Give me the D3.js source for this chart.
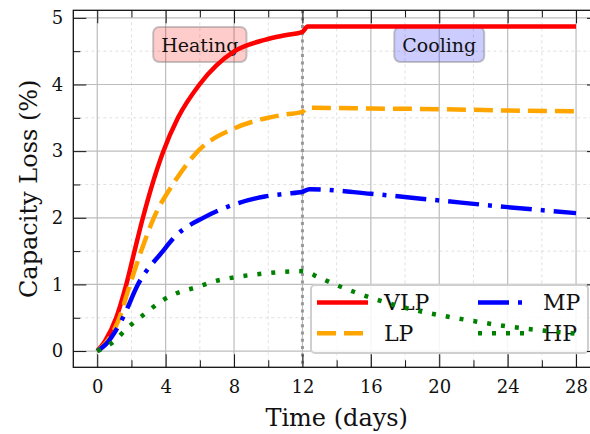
<!DOCTYPE html>
<html>
<head>
<meta charset="utf-8">
<script src="https://cdn.jsdelivr.net/npm/d3@7"></script>
<style>
  body { margin: 0; background: #fff; }
  text { font-family: "DejaVu Serif", serif; fill: #111; }
</style>
</head>
<body>
<svg id="chart" width="590" height="434"></svg>
<script>
// values, [time (days), capacity loss (%)]
var vlp = [[0,0],[0.45,0.15],[1.11,0.5],[1.7,1],[2.18,1.5],[2.67,2],[3.16,2.45],[3.84,2.98],[4.72,3.5],
  [5.98,4],[8.03,4.5],[9.8,4.67],[11,4.74],[12,4.79],[12.3,4.87],
  [16,4.87],[20,4.87],[24,4.87],[28,4.87]];
var lp = [[0,0],[0.5,0.12],[1.3,0.5],[1.89,0.98],[2.57,1.5],[3.31,2],[4.42,2.5],[5.89,3],[8,3.34],
  [9.8,3.49],[11,3.55],[12,3.59],[12.3,3.65],
  [16,3.64],[20,3.63],[24,3.61],[28,3.6]];
var mp = [[0,0],[0.5,0.1],[1.5,0.5],[2.38,1],[3.84,1.5],[4.52,1.71],[6.28,2.01],[8,2.2],
  [9.8,2.32],[11,2.36],[12,2.39],[12.4,2.43],
  [16,2.36],[20,2.26],[24,2.16],[28,2.07]];
var hp = [[0,0],[0.82,0.115],[1.89,0.375],[2.57,0.515],[3.84,0.765],[4.52,0.855],[5.89,0.965],
  [6.76,1.04],[8.22,1.115],[9.8,1.165],[11,1.19],[12,1.2],[13,1.1],[14,0.99],[15,0.89],[16,0.8],
  [17,0.72],[18,0.65],[19,0.59],[20,0.54],[22,0.45],[24,0.37],[26,0.31],[28,0.26]];

var names = ["VLP", "LP", "MP", "HP"];
var colors = ["#ff0000", "#ffa500", "#0000ff", "#008000"];
var dashes = [null, "19,8", "31,9,4,9", "4,10"];
var series = [vlp, lp, mp, hp];

var xMajor = [0, 4, 8, 12, 16, 20, 24, 28];
var xMinor = [2, 6, 10, 14, 18, 22, 26];
var yMajor = [0, 1, 2, 3, 4, 5];
var yMinor = [0.5, 1.5, 2.5, 3.5, 4.5];

var phases = [{label: "Heating", t: 6, v: 4.6, fill: "rgba(255,0,0,0.2)"},
              {label: "Cooling", t: 20, v: 4.6, fill: "rgba(0,0,255,0.2)"}];
var switchDay = 12;

var svg = d3.select("#chart");
var pL = 73.3, pR = 600, pT = 10.3, pB = 367.3;

var x = d3.scaleLinear().domain([-1.4, 29.4]).range([pL, pR]);
var y = d3.scaleLinear().domain([-0.2435, 5.1135]).range([pB, pT]);

// grid
var grid = svg.append("g");
grid.selectAll(".gxm").data(xMinor).enter().append("line")
  .attr("x1", d => x(d)).attr("x2", d => x(d)).attr("y1", pT).attr("y2", pB)
  .style("stroke", "#d8d8d8").style("stroke-width", 0.8).style("stroke-dasharray", "3,3");
grid.selectAll(".gym").data(yMinor).enter().append("line")
  .attr("y1", d => y(d)).attr("y2", d => y(d)).attr("x1", pL).attr("x2", pR)
  .style("stroke", "#d8d8d8").style("stroke-width", 0.8).style("stroke-dasharray", "3,3");
grid.selectAll(".gx").data(xMajor).enter().append("line")
  .attr("x1", d => x(d)).attr("x2", d => x(d)).attr("y1", pT).attr("y2", pB)
  .style("stroke", "#bdbdbd").style("stroke-width", 1.2);
grid.selectAll(".gy").data(yMajor).enter().append("line")
  .attr("y1", d => y(d)).attr("y2", d => y(d)).attr("x1", pL).attr("x2", pR)
  .style("stroke", "#bdbdbd").style("stroke-width", 1.2);

// phase switch
svg.append("line")
  .attr("x1", x(switchDay)).attr("x2", x(switchDay)).attr("y1", pT).attr("y2", pB)
  .style("stroke", "#999").style("stroke-width", 3).style("stroke-dasharray", "3,4.3");

// phase labels
phases.forEach(function(p) {
  var g = svg.append("g");
  var t = g.append("text").attr("x", x(p.t)).attr("y", y(p.v))
    .attr("text-anchor", "middle").attr("dominant-baseline", "central")
    .style("font-size", "19px").text(p.label);
  var bb = t.node().getBBox();
  g.insert("rect", "text")
    .attr("x", bb.x - 8).attr("y", y(p.v) - 17.5).attr("width", bb.width + 16).attr("height", 35)
    .attr("rx", 6)
    .style("fill", p.fill).style("stroke", "rgba(128,128,128,0.45)").style("stroke-width", 2);
});

// legend
var lg = svg.append("g");
lg.append("rect").attr("x", 311).attr("y", 285).attr("width", 277).attr("height", 68).attr("rx", 4)
  .style("fill", "rgba(255,255,255,0.85)").style("stroke", "#cfcfcf").style("stroke-width", 2);
names.forEach(function(n, i) {
  var col = Math.floor(i / 2), row = i % 2;
  var lx = 317 + col * 161, ly = 302.5 + row * 30.8;
  lg.append("line").attr("x1", lx).attr("x2", lx + 51).attr("y1", ly).attr("y2", ly)
    .style("stroke", colors[i]).style("stroke-width", 4.5)
    .style("stroke-dasharray", dashes[i]);
  lg.append("text").attr("x", lx + 67 - col * 2).attr("y", ly).attr("dominant-baseline", "central")
    .style("font-size", "22px").text(n);
});

// data lines
var line = d3.line().x(d => x(d[0])).y(d => y(d[1])).curve(d3.curveMonotoneX);
svg.selectAll(".series").data(series).enter().append("path")
  .attr("class", "series")
  .attr("d", line)
  .style("fill", "none")
  .style("stroke", (d, i) => colors[i])
  .style("stroke-width", 4.5)
  .style("stroke-dasharray", (d, i) => dashes[i])
  .style("stroke-linejoin", "round");

// axes, ticks pointing inward on all sides
function styleAxis(g) {
  g.select(".domain").remove();
  g.selectAll(".tick line").style("stroke", "#111").style("stroke-width", 1);
  g.selectAll(".tick text").style("font-family", "DejaVu Serif").style("font-size", "18px").style("fill", "#111");
}
svg.append("g").attr("transform", "translate(0," + pB + ")")
  .call(d3.axisBottom(x).tickValues(xMajor).tickSize(-13).tickPadding(13).tickFormat(d3.format("d"))).call(styleAxis);
svg.append("g").attr("transform", "translate(0," + pB + ")")
  .call(d3.axisBottom(x).tickValues(xMinor).tickSize(-7).tickFormat("")).call(styleAxis);
svg.append("g").attr("transform", "translate(0," + pT + ")")
  .call(d3.axisTop(x).tickValues(xMajor).tickSize(-13).tickFormat("")).call(styleAxis);
svg.append("g").attr("transform", "translate(0," + pT + ")")
  .call(d3.axisTop(x).tickValues(xMinor).tickSize(-7).tickFormat("")).call(styleAxis);
svg.append("g").attr("transform", "translate(" + pL + ",0)")
  .call(d3.axisLeft(y).tickValues(yMajor).tickSize(-13).tickPadding(10).tickFormat(d3.format("d"))).call(styleAxis);
svg.append("g").attr("transform", "translate(" + pL + ",0)")
  .call(d3.axisLeft(y).tickValues(yMinor).tickSize(-7).tickFormat("")).call(styleAxis);
svg.append("g").attr("transform", "translate(" + pR + ",0)")
  .call(d3.axisRight(y).tickValues(yMajor).tickSize(-13).tickFormat("")).call(styleAxis);
svg.append("g").attr("transform", "translate(" + pR + ",0)")
  .call(d3.axisRight(y).tickValues(yMinor).tickSize(-7).tickFormat("")).call(styleAxis);

svg.append("rect").attr("x", pL).attr("y", pT).attr("width", pR - pL).attr("height", pB - pT)
  .style("fill", "none").style("stroke", "#111").style("stroke-width", 1.3);

// axis titles
svg.append("text").attr("x", (pL + pR) / 2).attr("y", 426)
  .attr("text-anchor", "middle").style("font-size", "24px").text("Time (days)");
svg.append("text").attr("transform", "translate(37," + ((pT + pB) / 2) + ") rotate(-90)")
  .attr("text-anchor", "middle").style("font-size", "24px").text("Capacity Loss (%)");
</script>
</body>
</html>
